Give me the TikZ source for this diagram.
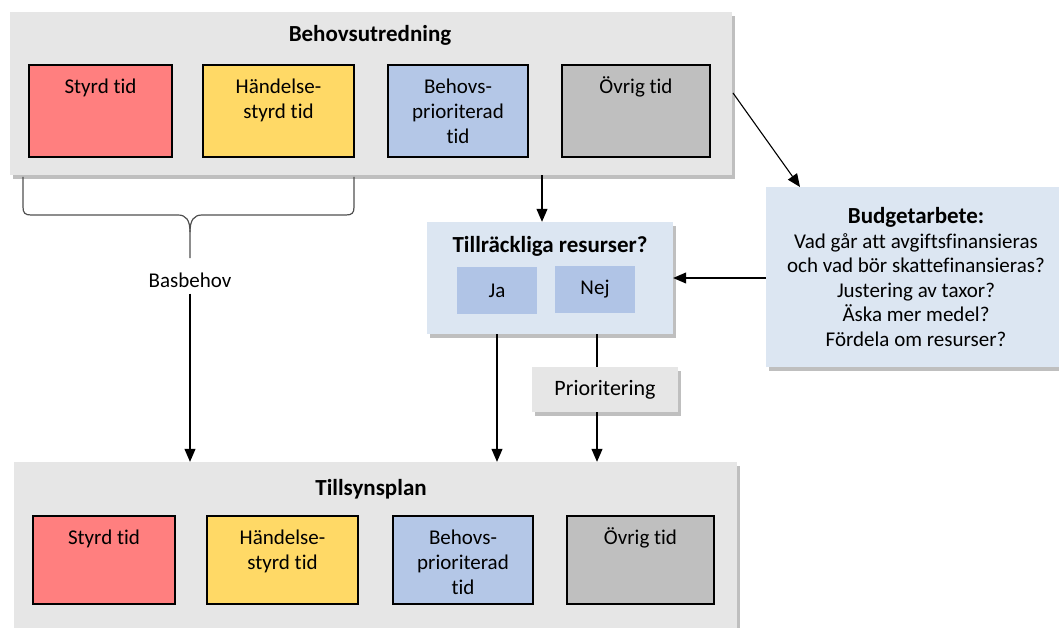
\documentclass[tikz,border=0pt]{standalone}
\usepackage{fontspec}
\setmainfont{Carlito}[Ligatures={NoCommon}]
\usetikzlibrary{shadows,arrows.meta,calc,fit}
\definecolor{cred}{HTML}{FF7F7F}
\definecolor{cyel}{HTML}{FFD966}
\definecolor{cblue}{HTML}{B4C7E7}
\definecolor{cgray}{HTML}{BFBFBF}
\definecolor{cpanel}{HTML}{E6E6E6}
\definecolor{lblue}{HTML}{DCE6F2}
\definecolor{mblue}{HTML}{B0C4E6}
\definecolor{brace}{HTML}{505050}
\newcommand{\Oph}{\vphantom{Ö}}
\begin{document}
\begin{tikzpicture}[x=1pt,y=-1pt,
  shadowed/.style={drop shadow={shadow xshift=3pt,shadow yshift=-4pt,fill=black,opacity=0.25}},
  panel/.style={fill=cpanel,shadowed,inner sep=0},
  lpanel/.style={fill=lblue,shadowed,inner sep=0},
  tbox/.style={draw=black,line width=1.6pt,inner sep=0},
  jn/.style={fill=mblue,inner sep=0},
  ttl/.style={font=\fontsize{23}{27}\selectfont\bfseries,inner sep=0},
  btxt/.style={font=\fontsize{21}{25}\selectfont,align=center,inner sep=0,anchor=north},
  txt/.style={font=\fontsize{21}{25}\selectfont,inner sep=0},
  arr/.style={line width=1.1pt,-{Triangle[width=11pt,length=13pt]}},
  bracestyle/.style={draw=brace,line width=1.2pt}
]
\useasboundingbox (0,0) rectangle (1059,628);
\clip (0,0) rectangle (1059,628);
\fill[white] (0,0) rectangle (1059,628);

% top panel
\node[panel,fit={(10,12) (732,175)}] (top) {};
\node[ttl] (toptitle) at (370,35) {Behovsutredning};
\node[tbox,fill=cred,fit={(29,65) (172,157)}] (r1) {};
\node[tbox,fill=cyel,fit={(203,65) (354,157)}] (y1) {};
\node[tbox,fill=cblue,fit={(388,65) (528,157)}] (b1) {};
\node[tbox,fill=cgray,fit={(562,65) (710,157)}] (g1) {};
\node[btxt] (r1t) at ($(r1.north)+(0,12)$) {\Oph Styrd tid};
\node[btxt] (y1t) at ($(y1.north)+(0,12)$) {\Oph Händelse-\\styrd tid};
\node[btxt] (b1t) at ($(b1.north)+(0,12)$) {\Oph Behovs-\\prioriterad\\tid};
\node[btxt] (g1t) at ($(g1.north)+(0,12)$) {\Oph Övrig tid};

% bottom panel
\node[panel,fit={(14,462) (737,650)}] (bot) {};
\node[ttl] (bottitle) at (371,489) {Tillsynsplan};
\node[tbox,fill=cred,fit={(33,516) (175,604)}] (r2) {};
\node[tbox,fill=cyel,fit={(207,516) (358,604)}] (y2) {};
\node[tbox,fill=cblue,fit={(393,516) (533,604)}] (b2) {};
\node[tbox,fill=cgray,fit={(567,516) (714,604)}] (g2) {};
\node[btxt] (r2t) at ($(r2.north)+(0,12)$) {\Oph Styrd tid};
\node[btxt] (y2t) at ($(y2.north)+(0,12)$) {\Oph Händelse-\\styrd tid};
\node[btxt] (b2t) at ($(b2.north)+(0,12)$) {\Oph Behovs-\\prioriterad\\tid};
\node[btxt] (g2t) at ($(g2.north)+(0,12)$) {\Oph Övrig tid};

% decision panel
\node[lpanel,fit={(427,222) (673,334)}] (till) {};
\node[ttl] (tilltitle) at (550,246) {Tillräckliga resurser?};
\node[jn,fit={(457,267) (537,314)}] (ja) {};
\node[txt] (jat) at (ja.center) {Ja};
\node[jn,fit={(555,266) (635,313)}] (nej) {};
\node[txt] (nejt) at (nej.center) {Nej};

% prioritering
\node[panel,fit={(532,367) (678,412)}] (prio) {};
\node[font=\fontsize{22}{26}\selectfont,inner sep=0] (priot) at (prio.center) {Prioritering};

% budget
\node[lpanel,fit={(766,187) (1070,367)}] (bud) {};
\node[font=\fontsize{21}{24.5}\selectfont,align=center,inner sep=0] (budt) at (916,277)
  {{\fontsize{23}{24.5}\selectfont\bfseries Budgetarbete:}\\Vad går att avgiftsfinansieras\\och vad bör skattefinansieras?\\Justering av taxor?\\Äska mer medel?\\Fördela om resurser?};

% basbehov
\node[txt] (bas) at (190,280) {Basbehov};
\draw[bracestyle] (23,177) -- (23,207) .. controls (23,213) and (25,215) .. (31,215) -- (178,215)
  .. controls (186,215) and (190,220) .. (190,232) -- (190,258);
\draw[bracestyle] (190,232) .. controls (190,220) and (194,215) .. (202,215) -- (346,215)
  .. controls (352,215) and (354,213) .. (354,207) -- (354,177);

% connectors
\coordinate (c1) at (542,0);
\draw[arr] (c1 |- top.south) -- (c1 |- till.north);
\coordinate (c2) at (0,278);
\draw[arr] (bud.west |- c2) -- (till.east |- c2);
\coordinate (c3) at (733,93);
\coordinate (c4) at (800,187);
\draw[arr] (c3) -- (c4);
\coordinate (c5) at (497,0);
\draw[arr] (c5 |- till.south) -- (c5 |- bot.north);
\coordinate (c6) at (597,0);
\draw[line width=1.1pt] (c6 |- till.south) -- (c6 |- prio.north);
\draw[arr] (c6 |- prio.south) -- (c6 |- bot.north);
\draw[arr] ($(bas.south)+(0,6)$) -- (bas.south |- bot.north);
\end{tikzpicture}
\end{document}
